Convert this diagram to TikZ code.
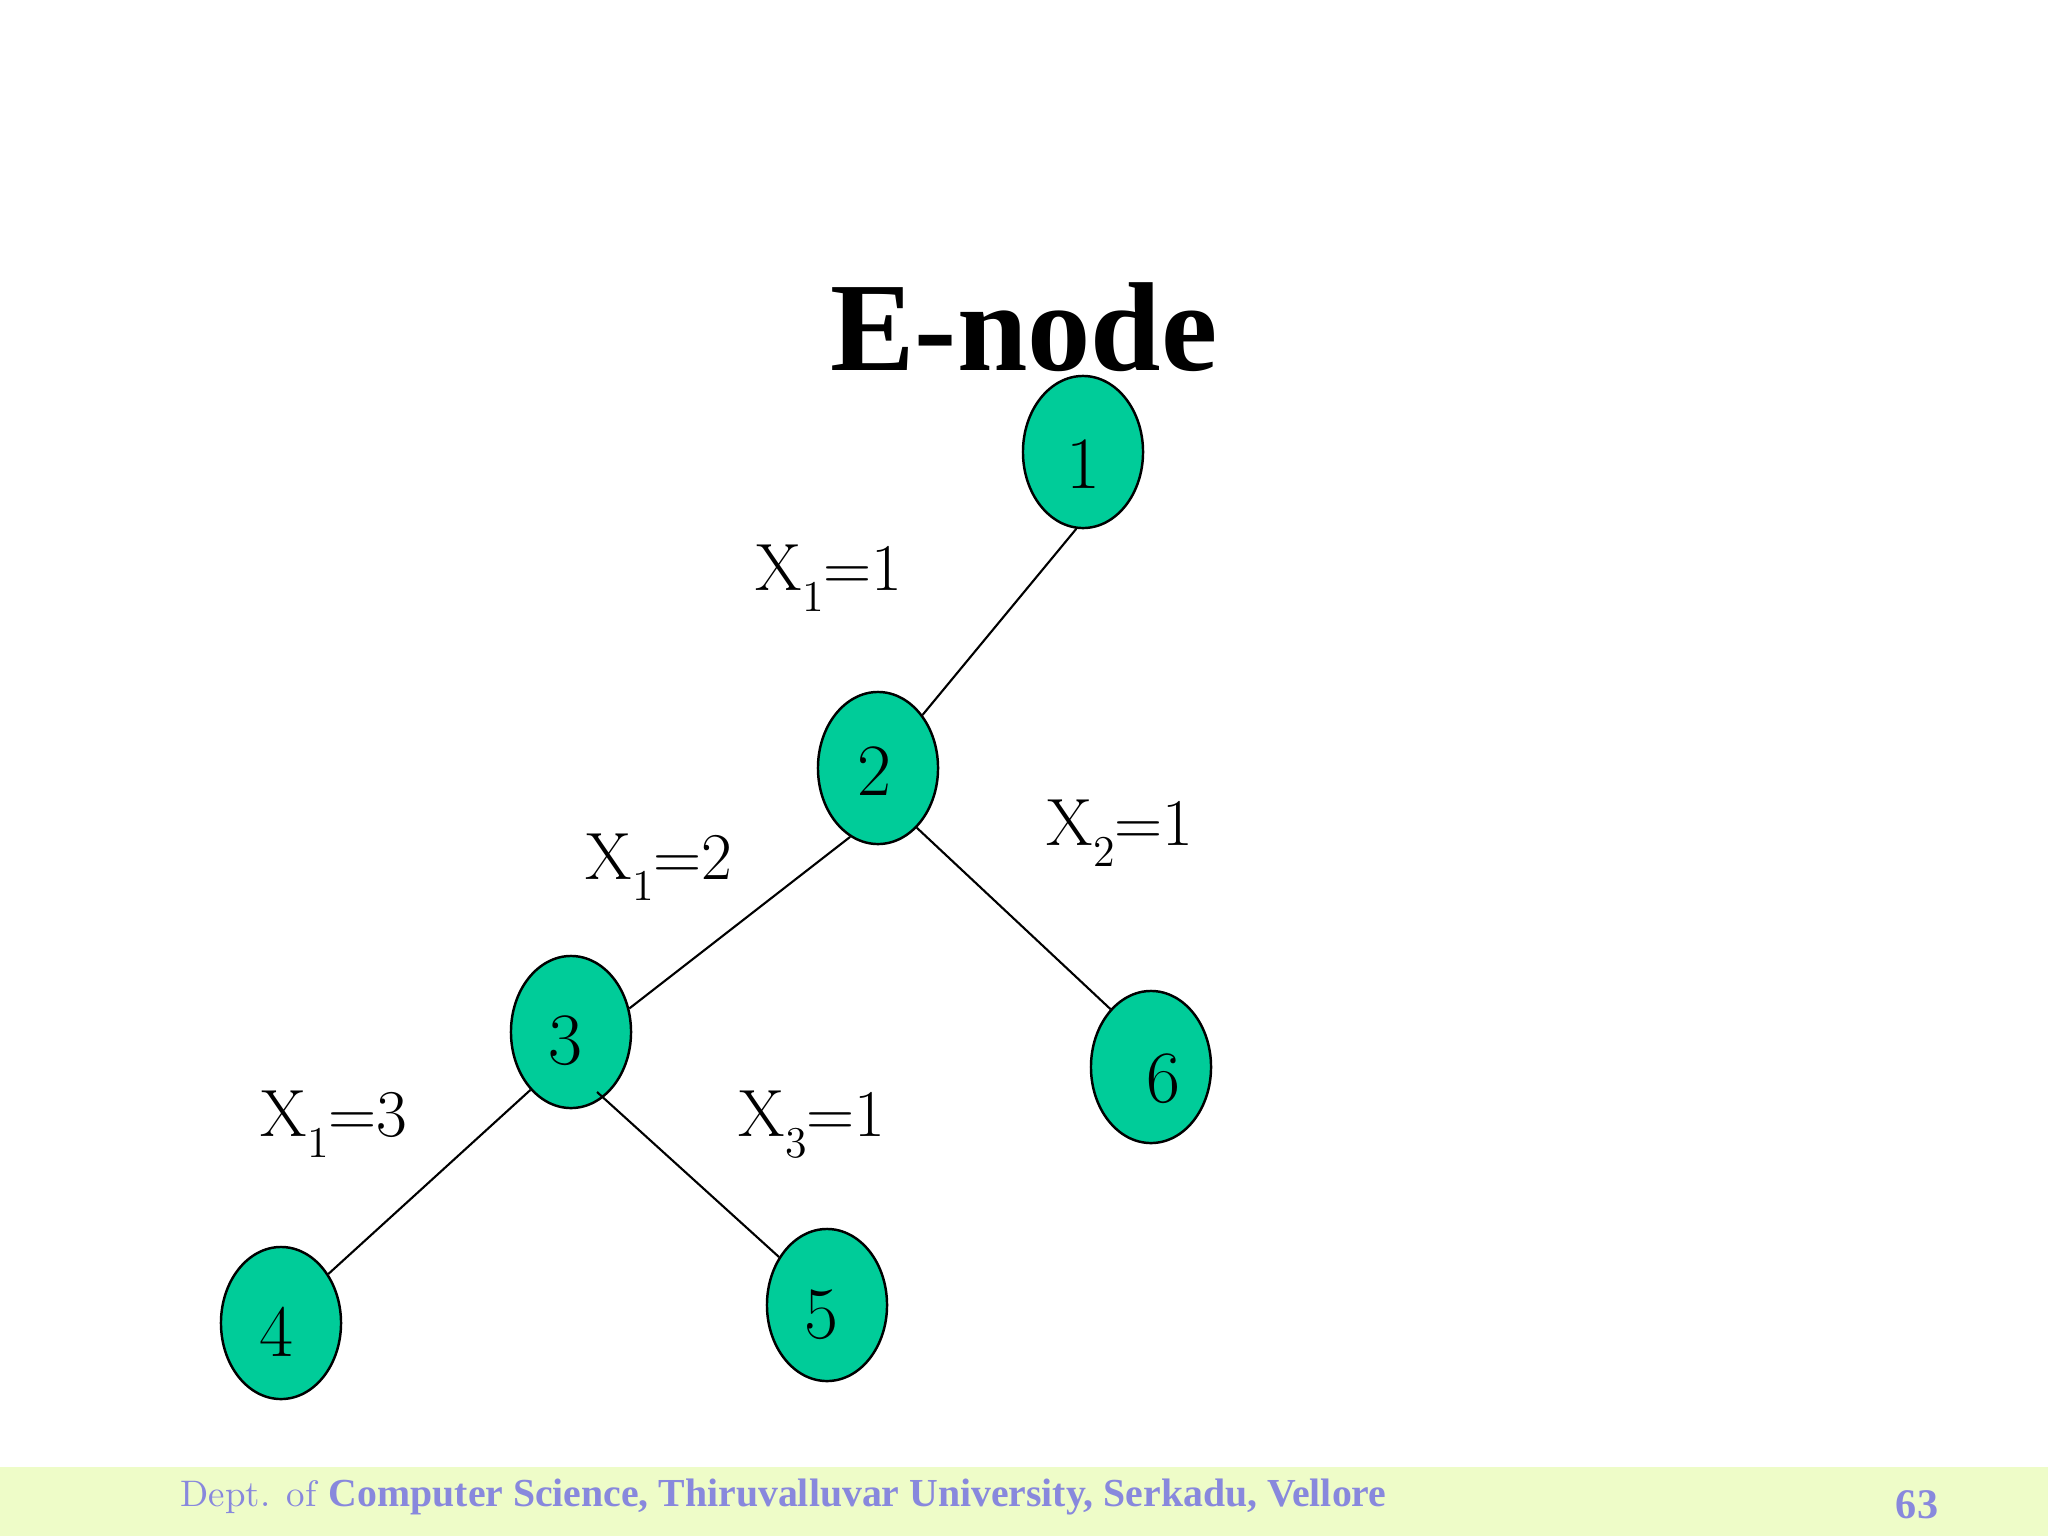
\documentclass[tikz,border=0pt]{standalone}
\usepackage{fontspec}
\newfontfamily\timesfam{Liberation Serif}
\usetikzlibrary{shapes.geometric,calc}
\definecolor{nodefill}{RGB}{0,204,153}
\definecolor{footband}{RGB}{238,252,200}
\definecolor{foottext}{RGB}{136,136,221}
\newcommand\lowsub[1]{\raisebox{-0.32em}{\fontsize{12.5}{12.5}\selectfont #1}}
\tikzset{
  enode/.style={ellipse, draw=black, line width=0.7pt, fill=nodefill,
    minimum width=1.2cm, minimum height=1.52cm, inner sep=0pt},
  digit/.style={font=\fontsize{21}{21}\selectfont, inner sep=0pt},
  edgelbl/.style={font=\fontsize{19}{19}\selectfont, inner sep=0pt, anchor=base west},
  treeedge/.style={draw=black, line width=0.6pt}
}
\begin{document}
\begin{tikzpicture}[x=0.01cm,y=-0.01cm]
\useasboundingbox (0,0) rectangle (2048,1536);
\fill[footband] (0,1467) rectangle (2048,1536);
\node[font=\fontsize{36}{36}\selectfont\timesfam\bfseries, anchor=base, inner sep=0pt] (title) at (1024,370) {E-node};
\node[enode, label={[digit, name=t1, yshift=-0.12cm]center:1}] (n1) at (1083,452) {};
\node[enode, label={[digit, name=t2, xshift=-0.04cm, yshift=-0.03cm]center:2}] (n2) at (878,768) {};
\node[enode, label={[digit, name=t3, xshift=-0.06cm, yshift=-0.09cm]center:3}] (n3) at (571,1032) {};
\node[enode, label={[digit, name=t4, xshift=-0.05cm, yshift=-0.09cm]center:4}] (n4) at (281,1323) {};
\node[enode, label={[digit, name=t5, xshift=-0.06cm, yshift=-0.10cm]center:5}] (n5) at (827,1305) {};
\node[enode, label={[digit, name=t6, xshift=0.12cm, yshift=-0.12cm]center:6}] (n6) at (1151,1067) {};
\coordinate (c35) at ($(n3.center)+(26,60)$);
\draw[treeedge] (n1.-95) -- (n2.50);
\draw[treeedge] (n2.248) -- (n3.22);
\draw[treeedge] (n2.303) -- (n6.125);
\draw[treeedge] (n3.235) -- (n4.46);
\draw[treeedge] (c35) -- (n5.135);
\node[edgelbl] (l1) at (755,590) {X\lowsub{1}=1};
\node[edgelbl] (l2) at (585,879) {X\lowsub{1}=2};
\node[edgelbl] (l3) at (1046,845) {X\lowsub{2}=1};
\node[edgelbl] (l4) at (260,1136) {X\lowsub{1}=3};
\node[edgelbl] (l5) at (738,1136) {X\lowsub{3}=1};
\node[anchor=base west, inner sep=0pt, text=foottext, font=\fontsize{10.5}{10.5}\selectfont] (foot) at (180,1506) {Dept. of {\fontsize{11.3}{11.3}\selectfont\timesfam\bfseries Computer Science, Thiruvalluvar University, Serkadu, Vellore}};
\node[anchor=base, inner sep=0pt, text=foottext, font=\fontsize{12}{12}\selectfont\timesfam\bfseries] (page) at (1917,1518) {63};
\end{tikzpicture}
\end{document}
